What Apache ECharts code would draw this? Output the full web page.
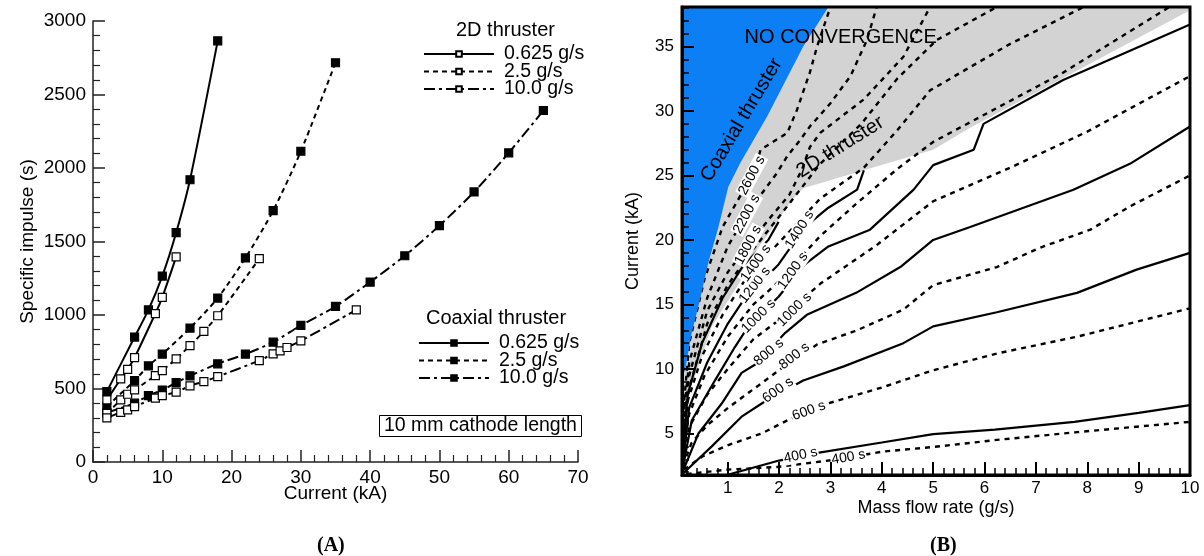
<!DOCTYPE html>
<html><head><meta charset="utf-8">
<script src="https://cdn.jsdelivr.net/npm/echarts@6/dist/echarts.min.js"></script>
<style>html,body{margin:0;padding:0;background:#fff}#c{width:1204px;height:556px}</style>
</head><body><div id="c"></div>
<script>
// ---------- Panel A : specific impulse vs current ----------
const coax0625_x = [2,6,8,10,12,14,18];
const coax0625_y = [479,850,1035,1265,1560,1920,2865];
const coax25_x = [2,6,8,10,14,18,22,26,30,35];
const coax25_y = [377,554,654,734,911,1115,1388,1710,2114,2716];
const coax10_x = [2,6,8,10,12,14,18,22,26,30,35,40,45,50,55,60,65];
const coax10_y = [336,400,452,489,540,586,668,734,815,929,1058,1224,1403,1608,1837,2103,2391];
const d2_0625_x = [2,4,5,6,9,10,12];
const d2_0625_y = [422,565,630,710,1010,1120,1395];
const d2_25_x = [2,4,5,6,9,10,12,14,16,18,24];
const d2_25_y = [330,422,461,490,588,622,702,792,888,995,1383];
const d2_10_x = [2,4,5,6,9,10,12,14,16,18,24,26,27,28,30,38];
const d2_10_y = [300,338,354,377,434,452,475,518,547,581,690,736,756,779,824,1035];
const legendNames = ['0.625 g/s','2.5 g/s','10.0 g/s'];

// ---------- Panel B : Isp contours (mass flow g/s, current kA) ----------
// coaxial thruster (solid)
const cS400 = [[1.0,1.8],[2.0,2.9],[2.75,3.5],[4.0,4.3],[5.0,4.95],[6.2,5.3],[7.75,5.9],[9.0,6.6],[10,7.2]];
const cS600 = [[0.13,1.9],[0.69,4.0],[1.27,6.3],[1.73,7.5],[2.47,9.1],[3.26,10.2],[4.42,12.0],[5.0,13.3],[6.24,14.4],[7.8,15.9],[8.96,17.7],[10,19.0]];
const cS800 = [[0.12,2.0],[0.43,5.0],[0.88,7.3],[1.27,9.7],[1.56,10.4],[2.12,12.8],[2.54,14.2],[3.5,15.9],[4.36,17.9],[5.0,20.0],[5.72,21.0],[7.73,23.9],[8.83,25.9],[10,28.8]];
const cS1000 = [[0.12,2.2],[0.3,6.0],[0.75,9.1],[1.14,11.7],[1.4,13.3],[1.99,15.6],[2.5,18.1],[2.96,19.5],[3.77,20.8],[4.62,23.9],[5.0,25.8],[5.79,27.0],[5.98,29.0],[7.53,32.4],[10,36.7]];
const cS1200 = [[0.12,2.5],[0.25,7.0],[0.6,10.5],[1.0,13.5],[1.3,15.3],[1.99,18.1],[2.5,21.0],[2.96,22.5],[3.52,23.9],[3.65,25.4]];
const cS1400 = [[0.12,3.0],[0.22,8.0],[0.5,12.0],[0.9,15.5],[1.3,18.0],[1.79,20.0],[1.99,21.4]];
// 2D thruster (dashed)
const cD400 = [[0.2,1.85],[1.0,2.2],[1.96,2.4],[3.06,2.95],[4.03,3.6],[5.0,3.95],[6.24,4.5],[7.8,5.1],[10,5.9]];
const cD600 = [[0.15,2.2],[0.5,3.2],[1.01,4.1],[1.66,5.0],[2.18,6.05],[2.93,7.3],[4.03,8.6],[5.0,9.9],[6.24,11.2],[7.8,12.5],[10,14.7]];
const cD800 = [[0.13,2.5],[0.3,4.3],[0.62,5.7],[1.01,7.0],[1.66,8.9],[2.1,10.2],[2.74,11.9],[3.52,13.0],[4.42,14.6],[5.0,16.5],[6.24,17.9],[7.08,19.4],[8.06,20.8],[8.83,22.6],[10,25.0]];
const cD1000 = [[0.12,2.8],[0.25,5.5],[0.6,8.0],[1.0,10.0],[1.5,12.3],[2.0,13.8],[2.8,16.6],[3.9,19.6],[5.0,23.0],[6.5,25.6],[8.0,28.4],[10,32.7]];
const cD1200 = [[0.12,3.2],[0.25,6.5],[0.55,9.5],[1.0,12.5],[1.5,15.0],[1.92,16.5],[2.8,20.3],[3.5,22.8],[4.3,25.5],[5.0,27.6],[7.5,32.9],[9.6,38.06]];
const cD1400 = [[0.12,3.6],[0.22,7.5],[0.5,11.0],[0.9,14.2],[1.4,17.3],[2.0,19.8],[2.8,23.2],[3.65,25.6],[4.3,28.5],[4.94,31.6],[6.5,35.2],[7.93,38.06]];
const cD1600 = [[0.12,4.2],[0.25,8.5],[0.6,13.5],[1.0,16.5],[1.5,19.3],[2.0,21.8],[2.8,25.9],[3.6,29.0],[4.3,32.5],[5.07,35.5],[6.24,38.06]];
const cD1800 = [[0.12,4.8],[0.25,9.5],[0.6,14.5],[1.0,17.5],[1.4,19.6],[1.8,21.6],[2.2,23.5],[2.45,25.5],[2.6,27.2],[2.8,28.3],[3.65,30.9],[4.42,34.2],[4.94,38.06]];
const cD2200 = [[0.12,5.5],[0.25,10.5],[0.6,15.5],[1.0,19.5],[1.37,22.0],[1.7,23.8],[1.96,25.2],[2.16,26.5],[2.41,27.75],[2.6,28.8],[3.0,30.6],[3.39,32.7],[3.71,35.5],[3.9,38.06]];
const cD2600 = [[0.12,6.0],[0.25,12.0],[0.55,17.0],[0.9,21.0],[1.3,23.8],[1.5,25.0],[1.64,27.0],[2.16,28.3],[2.35,30.1],[2.6,33.0],[2.74,35.0],[3.0,38.06]];

const grayRegion = [[0.11,38.06],[10,38.06],[10,37.8],[5.72,28.7],[5.0,27.0],[3.65,25.4],[2.8,24.4],[2.47,24.0],[2.25,23.1],[1.99,21.6],[1.66,19.7],[1.34,17.4],[1.01,15.3],[0.69,13.3],[0.43,10.2],[0.24,8.1],[0.11,7.0]];
const blueRegion = [[0.11,38.06],[2.96,38.06],[2.47,35.0],[1.77,29.6],[1.25,26.0],[1.01,24.1],[0.82,21.0],[0.62,18.2],[0.45,15.2],[0.3,12.8],[0.17,9.9],[0.11,9.4]];

// [x, y, text, angle]
const contourLabelsSolid = [[2.42,3.3,'400 s',12],[1.98,8.35,'600 s',35],[1.8,11.3,'800 s',40],[1.6,14.1,'1000 s',45],[1.53,16.5,'1200 s',52],[1.55,18.2,'1400 s',55]];
const contourLabelsDashed = [[3.35,3.15,'400 s',10],[2.58,6.75,'600 s',20],[2.3,11.0,'800 s',38],[2.3,14.6,'1000 s',45],[2.27,17.6,'1200 s',55],[2.4,20.8,'1400 s',58],[1.4,19.6,'1800 s',62],[1.37,22.0,'2200 s',62],[1.47,25.0,'2600 s',62]];
const regionLabels = [[3.2,35.7,'NO CONVERGENCE',0],[1.27,29.3,'Coaxial thruster',59],[3.19,27.2,'2D thruster',32]];

const rXMajor = [1,2,3,4,5,6,7,8,9,10];
const rXMinor = [0.2,0.4,0.6,0.8,1.2,1.4,1.6,1.8,2.2,2.4,2.6,2.8,3.2,3.4,3.6,3.8,4.2,4.4,4.6,4.8,5.2,5.4,5.6,5.8,6.2,6.4,6.6,6.8,7.2,7.4,7.6,7.8,8.2,8.4,8.6,8.8,9.2,9.4,9.6,9.8];
const rYMajor = [5,10,15,20,25,30,35];
const rYMinor = [2,3,4,6,7,8,9,11,12,13,14,16,17,18,19,21,22,23,24,26,27,28,29,31,32,33,34,36,37,38];

const FONT = 'Liberation Sans, Arial, sans-serif';
const zip = (xs, ys) => xs.map((x, i) => [x, ys[i]]);
const DASH = [5, 4];
const DASHDOT = [11, 4, 3, 4];

function aSeries(name, xs, ys, filled, dash) {
  return {
    type: 'line', name: name, xAxisIndex: 0, yAxisIndex: 0,
    data: zip(xs, ys), smooth: 0.25, symbol: 'rect', symbolSize: 8,
    lineStyle: { color: '#000', width: 2, type: dash },
    itemStyle: { color: filled ? '#000' : '#fff', borderColor: '#000', borderWidth: 1.2 },
    z: filled ? 3 : 4, animation: false
  };
}

const series = [
  aSeries('c0', coax0625_x, coax0625_y, true, 'solid'),
  aSeries('c1', coax25_x, coax25_y, true, DASH),
  aSeries('c2', coax10_x, coax10_y, true, DASHDOT),
  aSeries('d0', d2_0625_x, d2_0625_y, false, 'solid'),
  aSeries('d1', d2_25_x, d2_25_y, false, DASH),
  aSeries('d2', d2_10_x, d2_10_y, false, DASHDOT)
];

function polySeries(pts, color, z) {
  return {
    type: 'custom', xAxisIndex: 1, yAxisIndex: 1, z: z, clip: true, silent: true,
    data: [pts[0]],
    renderItem: function (params, api) {
      return { type: 'polygon', shape: { points: pts.map(p => api.coord(p)) }, style: { fill: color } };
    }
  };
}
series.push(polySeries(grayRegion, '#d3d3d3', 1));
const solids = [cS400, cS600, cS800, cS1000, cS1200, cS1400];
const dasheds = [cD400, cD600, cD800, cD1000, cD1200, cD1400, cD1600, cD1800, cD2200, cD2600];
solids.forEach(d => series.push({ type: 'line', xAxisIndex: 1, yAxisIndex: 1, data: d, symbol: 'none', clip: true, z: 2,
  lineStyle: { color: '#000', width: 2.2, type: 'solid' }, animation: false }));
dasheds.forEach(d => series.push({ type: 'line', xAxisIndex: 1, yAxisIndex: 1, data: d, symbol: 'none', clip: true, z: 2,
  lineStyle: { color: '#000', width: 2.4, type: [5, 5] }, animation: false }));
series.push(polySeries(blueRegion, '#0b7ff3', 3));

function labelSeries(items, bg, size, z) {
  return {
    type: 'scatter', xAxisIndex: 1, yAxisIndex: 1, symbolSize: 0, z: z, silent: true, animation: false,
    itemStyle: { opacity: 1 },
    data: items.map(it => ({ value: [it[0], it[1]], label: { show: true, formatter: it[2], rotate: it[3] } })),
    label: { show: true, position: 'inside', color: '#000', fontFamily: FONT, fontSize: size,
      backgroundColor: bg, padding: bg ? [0, 1] : 0 }
  };
}
series.push(labelSeries(contourLabelsSolid, '#fff', 14, 5));
series.push(labelSeries(contourLabelsDashed, '#fff', 14, 5));
series.push(labelSeries(regionLabels, null, 20, 6));

const axisTextA = { color: '#000', fontSize: 19, fontFamily: FONT };
const axisTextB = { color: '#000', fontSize: 17, fontFamily: FONT };
const legendText = { fontSize: 19.5, color: '#000', fontFamily: FONT, lineHeight: 17, padding: [0, 0, 0, 5] };

const option = {
  animation: false,
  backgroundColor: '#fff',
  textStyle: { fontFamily: FONT },
  title: [
    { text: '2D thruster', left: 451, top: 15, textStyle: { fontSize: 20, fontWeight: 'normal', color: '#000', fontFamily: FONT } },
    { text: 'Coaxial thruster', left: 421, top: 303, textStyle: { fontSize: 20, fontWeight: 'normal', color: '#000', fontFamily: FONT } },
    { text: '10 mm cathode length', left: 379, top: 415, padding: [1, 5, 1, 5], borderColor: '#000', borderWidth: 1,
      textStyle: { fontSize: 19.5, lineHeight: 19.5, fontWeight: 'normal', color: '#000', fontFamily: FONT } },
    { text: '(A)', left: 312, top: 531, textStyle: { fontSize: 20, fontWeight: 'bold', color: '#000', fontFamily: 'Liberation Serif, serif' } },
    { text: '(B)', left: 925, top: 531, textStyle: { fontSize: 20, fontWeight: 'bold', color: '#000', fontFamily: 'Liberation Serif, serif' } }
  ],
  legend: [
    { data: ['d0', 'd1', 'd2'], orient: 'vertical', left: 423, top: 44, itemWidth: 70, itemHeight: 7, itemGap: -2.5, padding: 0,
      selectedMode: false, textStyle: legendText, formatter: n => legendNames[+n[1]] },
    { data: ['c0', 'c1', 'c2'], orient: 'vertical', left: 418, top: 333, itemWidth: 70, itemHeight: 7, itemGap: -2.5, padding: 0,
      selectedMode: false, textStyle: legendText, formatter: n => legendNames[+n[1]] }
  ],
  grid: [
    { left: 93, top: 21, width: 485, height: 441, containLabel: false },
    { left: 682, top: 7, width: 508, height: 468, show: true, borderColor: '#000', borderWidth: 3, backgroundColor: 'transparent', z: 10 }
  ],
  xAxis: [
    { gridIndex: 0, type: 'value', min: 0, max: 70, interval: 10,
      axisLine: { show: true, lineStyle: { color: '#222', width: 1.5 } },
      axisTick: { inside: true, length: 12, lineStyle: { color: '#222', width: 1.5 } },
      minorTick: { show: true, splitNumber: 5, length: 7, lineStyle: { color: '#222', width: 1.2 } },
      axisLabel: Object.assign({ margin: 6 }, axisTextA), splitLine: { show: false },
      name: 'Current (kA)', nameLocation: 'middle', nameGap: 22, nameMoveOverlap: false, nameTextStyle: axisTextA },
    { gridIndex: 1, type: 'value', min: 0.11, max: 10, position: 'bottom', z: 10,
      axisLine: { show: true, lineStyle: { color: '#000', width: 3 } },
      axisTick: { inside: true, length: 13, customValues: rXMajor, lineStyle: { color: '#000', width: 2 } },
      axisLabel: Object.assign({ margin: 5, customValues: rXMajor }, axisTextB), splitLine: { show: false },
      name: 'Mass flow rate (g/s)', nameLocation: 'middle', nameGap: 24, nameMoveOverlap: false, nameTextStyle: Object.assign({}, axisTextB, { fontSize: 18 }) },
    { gridIndex: 1, type: 'value', min: 0.11, max: 10, position: 'bottom', z: 10,
      axisLine: { show: false }, axisTick: { inside: true, length: 7, customValues: rXMinor, lineStyle: { color: '#000', width: 1.5 } },
      axisLabel: { show: false }, splitLine: { show: false } }
  ],
  yAxis: [
    { gridIndex: 0, type: 'value', min: 0, max: 3000, interval: 500,
      axisLine: { show: true, lineStyle: { color: '#222', width: 1.5 } },
      axisTick: { inside: true, length: 12, lineStyle: { color: '#222', width: 1.5 } },
      minorTick: { show: true, splitNumber: 5, length: 7, lineStyle: { color: '#222', width: 1.2 } },
      axisLabel: Object.assign({ margin: 7, formatter: v => String(v) }, axisTextA), splitLine: { show: false },
      name: 'Specific impulse (s)', nameLocation: 'middle', nameGap: 56, nameMoveOverlap: false, nameTextStyle: axisTextA },
    { gridIndex: 1, type: 'value', min: 1.78, max: 38.06, position: 'left', z: 10,
      axisLine: { show: true, lineStyle: { color: '#000', width: 3 } },
      axisTick: { inside: true, length: 12, customValues: rYMajor, lineStyle: { color: '#000', width: 2 } },
      axisLabel: Object.assign({ margin: 8, customValues: rYMajor }, axisTextB), splitLine: { show: false },
      name: 'Current (kA)', nameLocation: 'middle', nameGap: 40, nameMoveOverlap: false, nameTextStyle: Object.assign({}, axisTextB, { fontSize: 18 }) },
    { gridIndex: 1, type: 'value', min: 1.78, max: 38.06, position: 'left', offset: 0, z: 10,
      axisLine: { show: false }, axisTick: { inside: true, length: 7, customValues: rYMinor, lineStyle: { color: '#000', width: 1.5 } },
      axisLabel: { show: false }, splitLine: { show: false } }
  ],
  series: series
};
const chart = echarts.init(document.getElementById('c'), null, { renderer: 'canvas' });
chart.setOption(option);
</script></body></html>
